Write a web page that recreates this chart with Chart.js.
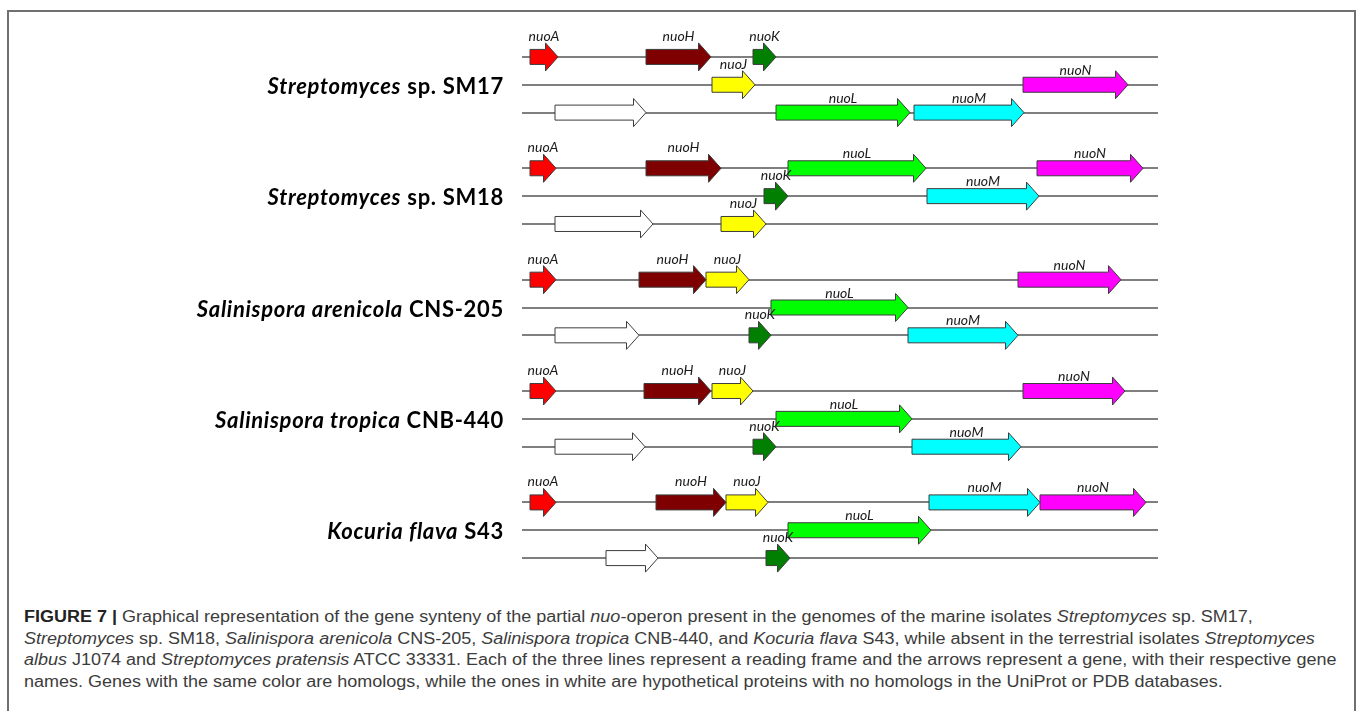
<!DOCTYPE html>
<html>
<head>
<meta charset="utf-8">
<script src="https://cdn.jsdelivr.net/npm/chart.js@4.4.1/dist/chart.umd.min.js"></script>
<style>
  html, body { margin: 0; padding: 0; background: #fff; }
  body { width: 1358px; height: 711px; position: relative; overflow: hidden; }
  .frame { position: absolute; left: 7px; top: 10px; width: 1345px; height: 760px; border: 2px solid #707070; border-bottom: none; }
  #wrap { position: absolute; left: 0; top: 0; width: 1358px; height: 590px; }
  .caption { position: absolute; left: 24px; top: 606px; font: 16px "Liberation Sans", Arial, sans-serif; line-height: 21.7px; color: #3c3c3c; white-space: nowrap; transform: scaleX(1.125); transform-origin: 0 0; }
  .caption b { color: #222; }
</style>
</head>
<body>
<div class="frame"></div>
<div id="wrap"><canvas id="chart" width="1358" height="590"></canvas></div>
<div class="caption">
  <b>FIGURE 7 |</b> Graphical representation of the gene synteny of the partial <i>nuo</i>-operon present in the genomes of the marine isolates <i>Streptomyces</i> sp. SM17,<br>
  <i>Streptomyces</i> sp. SM18, <i>Salinispora arenicola</i> CNS-205, <i>Salinispora tropica</i> CNB-440, and <i>Kocuria flava</i> S43, while absent in the terrestrial isolates <i>Streptomyces</i><br>
  <i>albus</i> J1074 and <i>Streptomyces pratensis</i> ATCC 33331. Each of the three lines represent a reading frame and the arrows represent a gene, with their respective gene<br>
  names. Genes with the same color are homologs, while the ones in white are hypothetical proteins with no homologs in the UniProt or PDB databases.
</div>
<script>
// species: italic part + strain
const speciesNames = ['Streptomyces', 'Streptomyces', 'Salinispora arenicola', 'Salinispora tropica', 'Kocuria flava'];
const speciesStrains = ['sp. SM17', 'sp. SM18', 'CNS-205', 'CNB-440', 'S43'];

const geneOrder = ['nuoA', 'nuoH', 'nuoJ', 'nuoK', 'nuoL', 'nuoM', 'nuoN', 'hypothetical'];

// [gene, reading frame, start, end] along the frame line (0..636)
const genesSM17 = [
  ['nuoA', 1, 8, 36], ['nuoH', 1, 124, 189], ['nuoK', 1, 231, 254],
  ['nuoJ', 2, 190, 233], ['nuoN', 2, 501, 606],
  ['hypothetical', 3, 33, 124], ['nuoL', 3, 254, 388], ['nuoM', 3, 392, 502]
];
const genesSM18 = [
  ['nuoA', 1, 8, 34], ['nuoH', 1, 124, 199], ['nuoL', 1, 266, 404], ['nuoN', 1, 515, 621],
  ['nuoK', 2, 242, 266], ['nuoM', 2, 405, 517],
  ['hypothetical', 3, 33, 131], ['nuoJ', 3, 199, 244]
];
const genesCNS205 = [
  ['nuoA', 1, 8, 34], ['nuoH', 1, 117, 184], ['nuoJ', 1, 184, 227], ['nuoN', 1, 496, 599],
  ['nuoL', 2, 249, 386],
  ['hypothetical', 3, 33, 117], ['nuoK', 3, 227, 249], ['nuoM', 3, 386, 496]
];
const genesCNB440 = [
  ['nuoA', 1, 8, 34], ['nuoH', 1, 122, 189], ['nuoJ', 1, 190, 231], ['nuoN', 1, 501, 603],
  ['nuoL', 2, 254, 390],
  ['hypothetical', 3, 33, 123], ['nuoK', 3, 231, 254], ['nuoM', 3, 390, 499]
];
const genesS43 = [
  ['nuoA', 1, 8, 34], ['nuoH', 1, 134, 204], ['nuoJ', 1, 204, 246], ['nuoM', 1, 407, 518], ['nuoN', 1, 518, 624],
  ['nuoL', 2, 266, 409],
  ['hypothetical', 3, 84, 136], ['nuoK', 3, 244, 268]
];
const speciesGenes = [genesSM17, genesSM18, genesCNS205, genesCNB440, genesS43];

const COLORS = {
  nuoA: '#ff0000',
  nuoH: '#7f0000',
  nuoJ: '#ffff00',
  nuoK: '#007f00',
  nuoL: '#00ff00',
  nuoM: '#00ffff',
  nuoN: '#ff00ff',
  hypothetical: '#ffffff',
  outline: '#3c3c3c',
  frameLine: '#7f7f7f',
  text: '#1a1a1a'
};

// 3 reading frames per species, with an empty row between species
const rowIds = [];
speciesNames.forEach((name, s) => {
  for (let f = 1; f <= 3; f++) rowIds.push(`s${s}-f${f}`);
  if (s < speciesNames.length - 1) rowIds.push(`gap${s}`);
});

const datasets = geneOrder.map(gene => ({
  label: gene,
  showLabel: gene !== 'hypothetical',
  data: speciesGenes.flatMap((list, s) =>
    list.filter(g => g[0] === gene).map(g => ({ x: [g[2], g[3]], y: `s${s}-f${g[1]}` }))
  ),
  backgroundColor: COLORS[gene],
  borderColor: COLORS.outline,
  borderWidth: 0,
  grouped: false
}));

// draws each floating bar as a gene arrow, plus gene names
const arrowPlugin = {
  id: 'geneArrows',
  beforeDatasetDraw(chart, args) {
    const ctx = chart.ctx;
    const ds = chart.data.datasets[args.index];
    ctx.save();
    args.meta.data.forEach(bar => {
      const { x, y, base } = bar.getProps(['x', 'y', 'base'], true);
      const head = Math.min(12.5, (x - base) * 0.6);
      const b = 7.5, h = 14;
      ctx.beginPath();
      ctx.moveTo(base, y - b);
      ctx.lineTo(x - head, y - b);
      ctx.lineTo(x - head, y - h);
      ctx.lineTo(x, y);
      ctx.lineTo(x - head, y + h);
      ctx.lineTo(x - head, y + b);
      ctx.lineTo(base, y + b);
      ctx.closePath();
      ctx.fillStyle = bar.options.backgroundColor;
      ctx.fill();
      ctx.lineWidth = 1;
      ctx.strokeStyle = bar.options.borderColor;
      ctx.stroke();
      if (ds.showLabel) {
        // long arrows keep their name just above the body, short ones sit higher
        const lift = (x - base) > 95 ? 10 : 16;
        ctx.font = 'italic 14px Lato';
        ctx.fillStyle = COLORS.text;
        ctx.textAlign = 'center';
        ctx.textBaseline = 'alphabetic';
        ctx.fillText(ds.label, (x + base) / 2, y - lift);
      }
    });
    ctx.restore();
    return false;
  },
  afterDraw(chart) {
    const ctx = chart.ctx;
    const yScale = chart.scales.y;
    const right = chart.chartArea.left - 18;
    ctx.save();
    ctx.fillStyle = '#000';
    ctx.textAlign = 'right';
    ctx.textBaseline = 'alphabetic';
    ctx.letterSpacing = '0.7px';
    speciesNames.forEach((name, s) => {
      const y = yScale.getPixelForValue(s * 4 + 1) + 9;
      const strain = ' ' + speciesStrains[s];
      ctx.font = 'bold 22px Lato';
      const w = ctx.measureText(strain).width;
      ctx.fillText(strain, right, y);
      ctx.font = 'italic bold 22px Lato';
      ctx.fillText(name, right - w, y);
    });
    ctx.restore();
  }
};

new Chart(document.getElementById('chart'), {
  type: 'bar',
  data: { labels: rowIds, datasets },
  options: {
    indexAxis: 'y',
    responsive: false,
    animation: false,
    layout: { padding: { left: 522, right: 200, top: 43, bottom: 18 } },
    plugins: { legend: { display: false }, tooltip: { enabled: false } },
    scales: {
      x: { type: 'linear', min: 0, max: 636, display: false },
      y: {
        type: 'category',
        offset: true,
        border: { display: false },
        ticks: { display: false },
        grid: {
          offset: false,
          drawTicks: false,
          lineWidth: 2,
          color: (c) => (c.index % 4 === 3 ? 'rgba(0,0,0,0)' : COLORS.frameLine)
        }
      }
    }
  },
  plugins: [arrowPlugin]
});
</script>
</body>
</html>
